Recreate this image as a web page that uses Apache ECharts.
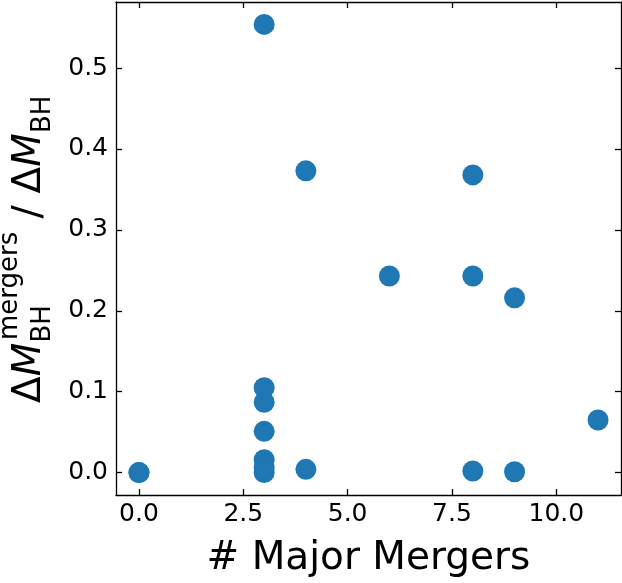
<!DOCTYPE html>
<html>
<head>
<meta charset="utf-8">
<script src="https://cdn.jsdelivr.net/npm/echarts@6/dist/echarts.min.js"></script>
<style>html,body{margin:0;padding:0;background:#fff}#c{width:622px;height:583px}</style>
</head>
<body>
<div id="c"></div>
<script>
// Data
const majorMergers = [0, 0, 3, 3, 3, 3, 3, 3, 3, 4, 4, 6, 8, 8, 8, 9, 9, 11];
const mergerFraction = [0.000, 0.000, 0.554, 0.105, 0.087, 0.051, 0.016, 0.006, 0.000, 0.373, 0.004, 0.243, 0.368, 0.243, 0.002, 0.216, 0.001, 0.065];
const xTicks = [0, 2.5, 5, 7.5, 10];
const yTicks = [0, 0.1, 0.2, 0.3, 0.4, 0.5];
const xRange = [-0.55, 11.55];
const yRange = [-0.0277, 0.5817];

const points = majorMergers.map((x, i) => [x, mergerFraction[i]]);
const FONT = 'DejaVu Sans';
const AX = '#000';

function axisCommon(showLabels, ticks) {
  return {
    type: 'value',
    splitLine: { show: false },
    axisLine: { show: true, onZero: false, lineStyle: { color: AX, width: 1.3 } },
    axisTick: { show: true, inside: true, length: 6, lineStyle: { color: AX, width: 1.3 }, customValues: ticks },
    axisLabel: { show: showLabels, customValues: ticks, color: '#000', fontFamily: FONT, fontSize: 25,
      formatter: v => Number(v).toFixed(1) }
  };
}

const chart = echarts.init(document.getElementById('c'), null, { renderer: 'canvas' });
const xb = Object.assign(axisCommon(true, xTicks), { position: 'bottom', min: xRange[0], max: xRange[1],
  name: '# Major Mergers', nameLocation: 'middle', nameGap: 44,
  nameTextStyle: { fontFamily: FONT, fontSize: 39, color: '#000', verticalAlign: 'top' } });
xb.axisLabel.margin = 7;
const xt = Object.assign(axisCommon(false, xTicks), { position: 'top', min: xRange[0], max: xRange[1] });
const yl = Object.assign(axisCommon(true, yTicks), { position: 'left', min: yRange[0], max: yRange[1] });
yl.axisLabel.margin = 8;
const yr = Object.assign(axisCommon(false, yTicks), { position: 'right', min: yRange[0], max: yRange[1] });

const big = 39, small = 26;
const lblStyle = (t, size, italic) => ({ text: t, fontFamily: FONT, fontSize: size, fontStyle: italic ? 'italic' : 'normal', fill: '#000', verticalAlign: 'middle', align: 'left' });

chart.setOption({
  animation: false,
  grid: { left: 116, right: 1, top: 2, bottom: 88, containLabel: false },
  xAxis: [xb, xt],
  yAxis: [yl, yr],
  series: [{
    type: 'scatter',
    xAxisIndex: 0, yAxisIndex: 0,
    data: points,
    symbol: 'circle',
    symbolSize: 21,
    itemStyle: { color: '#1f77b4', opacity: 1 }
  }],
  graphic: [{
    type: 'group',
    x: 29.5, y: 403,
    rotation: Math.PI / 2,
    children: [
      { type: 'text', x: 0, y: 0, style: lblStyle('Δ', big, false) },
      { type: 'text', x: 26.7, y: 0, style: lblStyle('M', big, true) },
      { type: 'text', x: 63, y: -19.5, style: lblStyle('mergers', small, false) },
      { type: 'text', x: 60.4, y: 13.5, style: lblStyle('BH', small, false) },
      { type: 'text', x: 184.4, y: 0, style: lblStyle('/', big, false) },
      { type: 'text', x: 209.5, y: 0, style: lblStyle('Δ', big, false) },
      { type: 'text', x: 236.2, y: 0, style: lblStyle('M', big, true) },
      { type: 'text', x: 270, y: 13.5, style: lblStyle('BH', small, false) }
    ]
  }]
});
</script>
</body>
</html>
